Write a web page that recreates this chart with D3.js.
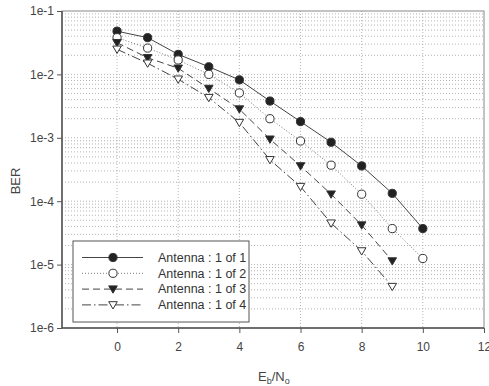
<!DOCTYPE html>
<html>
<head>
<meta charset="utf-8">
<script src="https://cdn.jsdelivr.net/npm/d3@7"></script>
<style>
  body { margin: 0; background: #fff; }
  svg { display: block; font-family: "Liberation Sans", Arial, sans-serif; }
</style>
</head>
<body>
<div id="wrapper"></div>
<script>
// data
const snr = [0, 1, 2, 3, 4, 5, 6, 7, 8, 9, 10]
const ber1of1 = [0.048, 0.038, 0.0207, 0.0132, 0.0082, 0.0038, 0.0018, 8.5e-4, 3.6e-4, 1.33e-4, 3.7e-5]
const ber1of2 = [0.038, 0.026, 0.0169, 0.010, 0.0051, 0.0020, 8.9e-4, 3.7e-4, 1.29e-4, 3.7e-5, 1.25e-5]
const ber1of3 = [0.0316, 0.0183, 0.0125, 0.0060, 0.00284, 9.5e-4, 3.6e-4, 1.29e-4, 4.2e-5, 1.14e-5]
const ber1of4 = [0.0249, 0.015, 0.0084, 0.0043, 0.00174, 4.5e-4, 1.7e-4, 4.5e-5, 1.64e-5, 4.5e-6]
const seriesNames = ["Antenna : 1 of 1", "Antenna : 1 of 2", "Antenna : 1 of 3", "Antenna : 1 of 4"]
const xTicks = [0, 2, 4, 6, 8, 10, 12]
const yTicks = [1e-1, 1e-2, 1e-3, 1e-4, 1e-5, 1e-6]
const yTickLabels = ["1e-1", "1e-2", "1e-3", "1e-4", "1e-5", "1e-6"]

const series = [
  { name: seriesNames[0], values: ber1of1, dash: null, marker: "circle", filled: true },
  { name: seriesNames[1], values: ber1of2, dash: "1,2", marker: "circle", filled: false },
  { name: seriesNames[2], values: ber1of3, dash: "7,4", marker: "tri", filled: true },
  { name: seriesNames[3], values: ber1of4, dash: "9,3,1.5,3", marker: "tri", filled: false },
]

const dimensions = {
  width: 489,
  height: 386,
  margin: { top: 11, right: 5, bottom: 58, left: 62 },
}
dimensions.boundedWidth = dimensions.width - dimensions.margin.left - dimensions.margin.right
dimensions.boundedHeight = dimensions.height - dimensions.margin.top - dimensions.margin.bottom

const wrapper = d3.select("#wrapper")
  .append("svg")
    .attr("width", dimensions.width)
    .attr("height", dimensions.height)

const bounds = wrapper.append("g")
    .attr("transform", `translate(${dimensions.margin.left},${dimensions.margin.top})`)

const xScale = d3.scaleLinear()
    .domain([-1.8, 12])
    .range([0, dimensions.boundedWidth])
const yScale = d3.scaleLog()
    .domain([1e-6, 1e-1])
    .range([dimensions.boundedHeight, 0])

// grid: horizontal dotted at every log step, vertical at major x ticks
const minorY = []
for (let e = -6; e < -1; e++) {
  for (let m = 1; m < 10; m++) minorY.push(m * Math.pow(10, e))
}
bounds.append("g")
  .selectAll("line")
  .data(minorY)
  .join("line")
    .attr("x1", 0)
    .attr("x2", dimensions.boundedWidth)
    .attr("y1", d => yScale(d))
    .attr("y2", d => yScale(d))
    .attr("stroke", "#b4b4b4")
    .attr("stroke-width", 1)
    .attr("stroke-dasharray", "1,2")
bounds.append("g")
  .selectAll("line")
  .data(xTicks.filter(d => d < 12))
  .join("line")
    .attr("x1", d => xScale(d))
    .attr("x2", d => xScale(d))
    .attr("y1", 0)
    .attr("y2", dimensions.boundedHeight)
    .attr("stroke", "#b4b4b4")
    .attr("stroke-width", 1)
    .attr("stroke-dasharray", "1,2")

// frame
bounds.append("rect")
    .attr("x", 0)
    .attr("y", 0)
    .attr("width", dimensions.boundedWidth)
    .attr("height", dimensions.boundedHeight)
    .attr("fill", "none")
    .attr("stroke", "#888")
    .attr("stroke-width", 1)

// axes
const xAxis = bounds.append("g")
    .attr("transform", `translate(0,${dimensions.boundedHeight})`)
    .call(d3.axisBottom(xScale).tickValues(xTicks).tickSize(5).tickPadding(9))
const yAxis = bounds.append("g")
    .call(d3.axisLeft(yScale).tickValues(yTicks)
      .tickFormat((d, i) => yTickLabels[i]).tickSize(5).tickPadding(3))
for (const ax of [xAxis, yAxis]) {
  ax.select(".domain").attr("stroke", "#555").attr("stroke-width", 1.5)
  ax.selectAll(".tick line").attr("stroke", "#555")
  ax.selectAll(".tick text")
      .attr("fill", "#444")
      .style("font-size", "12px")
      .style("font-family", "'Liberation Sans', Arial, sans-serif")
}
xAxis.select(".domain").attr("d", `M0,0H${dimensions.boundedWidth}`)
yAxis.select(".domain").attr("d", `M0,0V${dimensions.boundedHeight}`)

// markers
const triPath = r => `M${-r},${-r * 0.75}L${r},${-r * 0.75}L0,${r * 0.95}Z`
function drawMarker(sel, s) {
  if (s.marker === "circle") {
    sel.append("circle")
        .attr("r", 4.1)
        .attr("fill", s.filled ? "#222" : "#fff")
        .attr("stroke", "#333")
        .attr("stroke-width", 1)
  } else {
    sel.append("path")
        .attr("d", triPath(4.3))
        .attr("fill", s.filled ? "#222" : "#fff")
        .attr("stroke", "#333")
        .attr("stroke-width", 1)
  }
}

const lineGenerator = (vals) => d3.line()
    .x((d, i) => xScale(snr[i]))
    .y(d => yScale(d))(vals)

series.forEach(s => {
  bounds.append("path")
      .attr("d", lineGenerator(s.values))
      .attr("fill", "none")
      .attr("stroke", s.dash === "1,2" ? "#777" : "#444")
      .attr("stroke-width", 1)
      .attr("stroke-dasharray", s.dash)
  bounds.append("g")
    .selectAll("g")
    .data(s.values)
    .join("g")
      .attr("transform", (d, i) => `translate(${xScale(snr[i])},${yScale(d)})`)
      .each(function() { drawMarker(d3.select(this), s) })
})

// legend
const legend = wrapper.append("g")
    .attr("transform", "translate(73,241)")
legend.append("rect")
    .attr("width", 176)
    .attr("height", 81)
    .attr("fill", "#fff")
    .attr("stroke", "#555")
    .attr("stroke-width", 1)
series.forEach((s, i) => {
  const row = legend.append("g")
      .attr("transform", `translate(0,${16.5 + i * 15.8})`)
  row.append("line")
      .attr("x1", 9)
      .attr("x2", 70)
      .attr("stroke", s.dash === "1,2" ? "#777" : "#444")
      .attr("stroke-width", 1)
      .attr("stroke-dasharray", s.dash)
  const m = row.append("g").attr("transform", "translate(40,0)")
  drawMarker(m, s)
  row.append("text")
      .attr("x", 85)
      .attr("dy", "0.35em")
      .attr("fill", "#333")
      .style("font-size", "12.5px")
      .text(s.name)
})

// axis titles
wrapper.append("text")
    .attr("transform", "translate(20,181) rotate(-90)")
    .attr("text-anchor", "middle")
    .attr("fill", "#444")
    .style("font-size", "13px")
    .text("BER")
const xt = wrapper.append("text")
    .attr("x", 258)
    .attr("y", 381)
    .attr("fill", "#444")
    .style("font-size", "13px")
xt.append("tspan").text("E")
xt.append("tspan").attr("dy", 2.5).style("font-size", "9px").text("b")
xt.append("tspan").attr("dy", -2.5).text("/N")
xt.append("tspan").attr("dy", 2.5).style("font-size", "9px").text("o")
</script>
</body>
</html>
